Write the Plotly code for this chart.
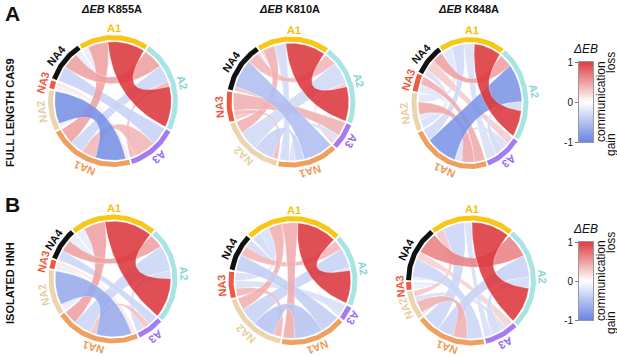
import numpy as np
import plotly.graph_objects as go

# ---------------- data ----------------
sectors = ["A1", "A2", "A3", "NA1", "NA2", "NA3", "NA4"]
ring_colors = ["#F8C614", "#A9E4E4", "#A47CF0", "#EF9F5E", "#EAD5AE", "#EE5A40", "#111111"]
label_colors = ["#F5C000", "#86D6D8", "#9A6CEE", "#EE9A58", "#E6CFA2", "#EE5A40", "#111111"]

col_titles = ["<i>ΔEB</i> K855A", "<i>ΔEB</i> K810A", "<i>ΔEB</i> K848A"]
row_titles = ["FULL LENGTH CAS9", "ISOLATED HNH"]
panel_letters = ["A", "B"]
cbar_ticks = [-1, 0, 1]

# sector sizes (degrees of the ring) per diagram, order = sectors
spans_fl_k855a = [63, 82, 45, 77, 36, 7, 37]
spans_fl_k810a = [66, 72, 24, 55, 57, 27, 46]
spans_fl_k848a = [66, 87, 36, 80, 34, 16, 29]
spans_hnh_k855a = [79, 88, 24, 78, 41, 8, 30]
spans_hnh_k810a = [89, 66, 13, 60, 60, 24, 34]
spans_hnh_k848a = [76, 93, 31, 64, 26, 7, 51]

# links: (source, target, width at source, width at target, delta EB)
links_fl_k855a = [
    ("A1", "A2", 37, 40, 0.95), ("A1", "NA1", 20, 16, 0.45), ("A1", "NA4", 6, 6, -0.15),
    ("A2", "NA4", 20, 16, 0.45), ("A2", "NA1", 17, 14, -0.32), ("A2", "A3", 5, 5, 0.35),
    ("NA4", "A3", 15, 18, -0.35), ("A3", "NA1", 22, 14, 0.35), ("NA1", "NA2", 30, 32, -0.85),
    ("NA1", "NA3", 3, 4, 0.12), ("NA2", "NA3", 4, 3, -0.12),
]
links_fl_k810a = [
    ("A1", "A2", 40, 34, 0.95), ("A1", "NA1", 12, 10, -0.28), ("A1", "NA2", 12, 12, 0.38),
    ("A1", "NA4", 2, 2, 0.25), ("A2", "NA4", 12, 12, 0.35), ("A2", "NA2", 22, 20, -0.3),
    ("A2", "A3", 4, 4, 0.25), ("NA4", "NA1", 28, 30, -0.5), ("NA4", "NA3", 4, 4, 0.3),
    ("NA3", "A3", 18, 14, 0.38), ("A3", "NA1", 6, 6, -0.25), ("NA3", "NA2", 5, 5, 0.35),
    ("NA1", "NA2", 9, 20, -0.35),
]
links_fl_k848a = [
    ("A1", "A2", 30, 26, 0.95), ("A1", "NA1", 14, 12, -0.3), ("A1", "NA2", 10, 8, -0.2),
    ("A1", "A3", 12, 12, -0.25), ("A2", "NA1", 38, 34, -0.82), ("A2", "NA4", 14, 12, 0.45),
    ("A2", "A3", 9, 8, -0.28), ("A3", "NA4", 8, 11, 0.25), ("A3", "NA1", 8, 8, -0.25),
    ("NA1", "NA2", 14, 12, 0.42), ("NA1", "NA3", 12, 8, 0.4), ("NA2", "NA4", 8, 6, -0.25),
    ("NA2", "NA3", 6, 8, -0.2),
]
links_hnh_k855a = [
    ("A1", "A2", 48, 40, 0.95), ("A1", "NA1", 22, 14, 0.45), ("A1", "NA4", 9, 8, -0.15),
    ("A2", "NA4", 14, 12, 0.45), ("A2", "NA1", 26, 18, -0.32), ("A2", "A3", 8, 8, -0.28),
    ("NA4", "A3", 10, 10, -0.32), ("A3", "NA1", 6, 6, 0.3), ("NA1", "NA2", 36, 34, -0.65),
    ("NA1", "NA3", 4, 4, 0.12), ("NA2", "NA3", 7, 4, -0.15),
]
links_hnh_k810a = [
    ("A1", "A2", 40, 33, 0.95), ("A1", "NA1", 16, 12, 0.4), ("A1", "NA2", 14, 12, 0.38),
    ("A1", "NA4", 9, 8, -0.28), ("A1", "NA3", 10, 8, -0.25), ("A2", "NA4", 10, 10, 0.35),
    ("A2", "NA2", 20, 18, -0.35), ("A2", "A3", 3, 3, -0.25), ("NA4", "NA1", 16, 20, -0.38),
    ("A3", "NA3", 10, 8, -0.25), ("NA1", "NA2", 28, 22, -0.45), ("NA2", "NA3", 8, 8, 0.35),
]
links_hnh_k848a = [
    ("A1", "A2", 38, 36, 0.95), ("A1", "NA1", 22, 18, -0.32), ("A1", "NA2", 8, 6, 0.28),
    ("A1", "A3", 8, 8, -0.25), ("A2", "NA4", 24, 22, 0.6), ("A2", "NA1", 22, 16, -0.35),
    ("A2", "A3", 11, 10, -0.28), ("NA4", "NA1", 18, 16, -0.32), ("NA4", "A3", 8, 8, 0.22),
    ("NA4", "NA3", 3, 3, -0.15), ("A3", "NA2", 5, 5, -0.25), ("NA1", "NA2", 14, 12, 0.38),
    ("NA2", "NA3", 3, 4, -0.15),
]

# ---------------- layout of diagrams ----------------
W, H = 617, 357
diagrams = [
    dict(spans=spans_fl_k855a, links=links_fl_k855a, cx=113, cy=101, rx=62.5, ry=63.5, start=-31, lab=9.5),
    dict(spans=spans_fl_k810a, links=links_fl_k810a, cx=291, cy=102, rx=62, ry=63, start=-31, lab=9.5),
    dict(spans=spans_fl_k848a, links=links_fl_k848a, cx=470, cy=103, rx=56, ry=63.5, start=-31, lab=9.5),
    dict(spans=spans_hnh_k855a, links=links_hnh_k855a, cx=113, cy=279, rx=62, ry=62, start=-39, lab=9.5),
    dict(spans=spans_hnh_k810a, links=links_hnh_k810a, cx=293, cy=280.5, rx=62, ry=62, start=-44, lab=9),
    dict(spans=spans_hnh_k848a, links=links_hnh_k848a, cx=471, cy=280.5, rx=62.5, ry=62.5, start=-37, lab=9),
]

BLUE = np.array([95, 125, 225])
RED = np.array([218, 45, 50])
WHITE = np.array([255, 255, 255])


def val_color(v, alpha=0.88):
    end = RED if v >= 0 else BLUE
    c = WHITE + abs(v) * (end - WHITE)
    return "rgba(%d,%d,%d,%.2f)" % (c[0], c[1], c[2], alpha)


def pts(d, rx, ry, th):
    th = np.radians(np.asarray(th, dtype=float))
    return d["cx"] + rx * np.sin(th), d["cy"] - ry * np.cos(th)


def arc(d, rx, ry, a0, a1):
    n = max(4, int(abs(a1 - a0) / 1.5) + 2)
    return pts(d, rx, ry, np.linspace(a0, a1, n))


def bez(d, p0, p2):
    t = np.linspace(0, 1, 30)
    cx, cy = d["cx"], d["cy"]
    x = (1 - t) ** 2 * p0[0] + 2 * (1 - t) * t * cx + t ** 2 * p2[0]
    y = (1 - t) ** 2 * p0[1] + 2 * (1 - t) * t * cy + t ** 2 * p2[1]
    return x, y


fig = go.Figure()
annotations = []

for d in diagrams:
    spans = d["spans"]
    gap = (360.0 - sum(spans)) / len(spans)
    starts = []
    a = d["start"]
    for s in spans:
        starts.append(a)
        a += s + gap
    centers = [starts[i] + spans[i] / 2 for i in range(len(spans))]
    idx = {n: i for i, n in enumerate(sectors)}

    # endpoints per sector, ordered clockwise by partner index (last sector first)
    ends = {i: [] for i in range(len(sectors))}
    for k, (s, t, ws, wt, v) in enumerate(d["links"]):
        ends[idx[s]].append((k, 0, ws, idx[t]))
        ends[idx[t]].append((k, 1, wt, idx[s]))
    pos = {}
    for i, lst in ends.items():
        if not lst:
            continue
        lst.sort(key=lambda e: -e[3])
        tot = sum(e[2] for e in lst)
        a = starts[i]
        for (k, side, w, o) in lst:
            ww = w * spans[i] / tot
            pos[(k, side)] = (a, a + ww)
            a += ww

    rcx, rcy = d["rx"] - 4.2, d["ry"] - 4.2
    order = sorted(range(len(d["links"])), key=lambda k: abs(d["links"][k][4]))
    for k in order:
        v = d["links"][k][4]
        a0, a1 = pos[(k, 0)]
        b0, b1 = pos[(k, 1)]
        x1, y1 = arc(d, rcx, rcy, a0, a1)
        x3, y3 = arc(d, rcx, rcy, b0, b1)
        x2, y2 = bez(d, (x1[-1], y1[-1]), (x3[0], y3[0]))
        x4, y4 = bez(d, (x3[-1], y3[-1]), (x1[0], y1[0]))
        xs = np.concatenate([x1, x2, x3, x4])
        ys = np.concatenate([y1, y2, y3, y4])
        fig.add_trace(go.Scatter(x=xs, y=ys, mode="lines", fill="toself",
                                 fillcolor=val_color(v),
                                 line=dict(color="rgba(255,255,255,0.55)", width=0.6),
                                 hoverinfo="skip", showlegend=False))

    for i, name in enumerate(sectors):
        xr, yr = arc(d, d["rx"], d["ry"], starts[i], starts[i] + spans[i])
        fig.add_trace(go.Scatter(x=xr, y=yr, mode="lines",
                                 line=dict(color=ring_colors[i], width=5),
                                 hoverinfo="skip", showlegend=False))
        lx, ly = pts(d, d["rx"] + d["lab"], d["ry"] + d["lab"], centers[i])
        ang = ((centers[i] + 180) % 360) - 180
        annotations.append(dict(x=float(lx), y=float(ly), xref="x", yref="y", text="<b>%s</b>" % name,
                                showarrow=False, textangle=ang,
                                font=dict(size=11, color=label_colors[i])))

# column titles
for j, t in enumerate(col_titles):
    annotations.append(dict(x=diagrams[j]["cx"] - 2, y=9, xref="x", yref="y", text="<b>%s</b>" % t,
                            showarrow=False, font=dict(size=11, color="#111")))
# row titles & letters
for r, (t, L, yc, yl) in enumerate(zip(row_titles, panel_letters, [113, 283], [13, 204])):
    annotations.append(dict(x=10, y=yc, xref="x", yref="y", text="<b>%s</b>" % t,
                            showarrow=False, textangle=-90, font=dict(size=11, color="#111")))
    annotations.append(dict(x=12, y=yl, xref="x", yref="y", text="<b>%s</b>" % L,
                            showarrow=False, font=dict(size=21, color="#111")))

# colour bars (heatmaps on their own small axes)
cscale = [[0, "rgb(105,132,226)"], [0.5, "rgb(255,255,255)"], [1, "rgb(222,62,66)"]]
zv = np.linspace(-1, 1, 101)
cb_y = [(62, 142), (242, 320)]
cb_x = (579, 593)
layout_axes = {}
for n, (y0, y1) in enumerate(cb_y):
    ax = n + 2
    fig.add_trace(go.Heatmap(z=zv.reshape(-1, 1), x=[0], y=zv, colorscale=cscale, zmin=-1, zmax=1,
                             showscale=False, hoverinfo="skip", xaxis="x%d" % ax, yaxis="y%d" % ax))
    layout_axes["xaxis%d" % ax] = dict(domain=[cb_x[0] / W, cb_x[1] / W], anchor="y%d" % ax,
                                        showticklabels=False, ticks="", showgrid=False, zeroline=False,
                                        showline=True, mirror=True, linecolor="#999", linewidth=1,
                                        fixedrange=True)
    layout_axes["yaxis%d" % ax] = dict(domain=[1 - y1 / H, 1 - y0 / H], anchor="x%d" % ax,
                                        range=[-1, 1], tickvals=cbar_ticks,
                                        ticktext=[str(t) for t in cbar_ticks], side="left",
                                        ticks="outside", ticklen=3, tickcolor="#777",
                                        tickfont=dict(size=10, color="#111"), showgrid=False,
                                        zeroline=False, showline=True, mirror=True, linecolor="#999",
                                        linewidth=1, fixedrange=True)
    annotations.append(dict(x=585, y=y0 - 13, xref="x", yref="y", text="<i>ΔEB</i>", showarrow=False,
                            font=dict(size=12, color="#111")))
    annotations.append(dict(x=601, y=(y0 + y1) / 2, xref="x", yref="y", text="communication",
                            showarrow=False, textangle=-90, font=dict(size=12, color="#111")))
    annotations.append(dict(x=611, y=y0 + 1, xref="x", yref="y", text="loss",
                            showarrow=False, textangle=-90, font=dict(size=12, color="#111")))
    annotations.append(dict(x=611, y=y1 + 3, xref="x", yref="y", text="gain",
                            showarrow=False, textangle=-90, font=dict(size=12, color="#111")))

fig.update_layout(
    width=W, height=H, margin=dict(l=0, r=0, t=0, b=0, pad=0, autoexpand=False),
    paper_bgcolor="white", plot_bgcolor="rgba(0,0,0,0)",
    font=dict(family="Liberation Sans, Arial, sans-serif"),
    xaxis=dict(range=[0, W], visible=False, fixedrange=True, domain=[0, 1]),
    yaxis=dict(range=[H, 0], visible=False, fixedrange=True, domain=[0, 1]),
    annotations=annotations, showlegend=False,
    **layout_axes,
)

post = ("document.documentElement.style.margin='0';document.body.style.margin='0';"
        "document.body.style.padding='0';document.body.style.overflow='hidden';"
        "var gd=document.getElementById('{plot_id}');gd.style.position='absolute';"
        "gd.style.left='0px';gd.style.top='0px';")
fig.write_html("out.html", config={"displayModeBar": False}, post_script=post)
